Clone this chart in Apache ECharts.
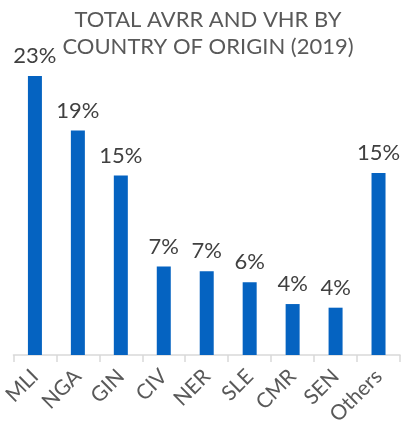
<!DOCTYPE html>
<html>
<head>
<meta charset="utf-8">
<script src="https://cdn.jsdelivr.net/npm/echarts@6/dist/echarts.min.js"></script>
<style>
  html, body { margin: 0; padding: 0; background: #fff; }
  #chart { width: 402px; height: 431px; }
</style>
</head>
<body>
<div id="chart"></div>
<script>
// values in percent
const countries = ['MLI', 'NGA', 'GIN', 'CIV', 'NER', 'SLE', 'CMR', 'SEN', 'Others'];
const shares = [23.0, 18.5, 14.8, 7.3, 6.9, 6.0, 4.2, 3.9, 15.0];

let chart = echarts.init(document.getElementById('chart'));

let option = {
  animation: false,
  title: {
    text: 'TOTAL AVRR AND VHR BY\nCOUNTRY OF ORIGIN (2019)',
    left: 203,
    textAlign: 'center',
    top: 1,
    textStyle: {
      fontFamily: 'Lato',
      fontWeight: 'normal',
      fontSize: 22,
      lineHeight: 27,
      color: '#595959'
    }
  },
  grid: { left: 10, right: 2, top: 76, bottom: 76 },
  xAxis: {
    type: 'category',
    data: countries,
    axisLine: { lineStyle: { color: '#D9D9D9', width: 1.5 } },
    axisTick: { show: true, length: 7, lineStyle: { color: '#D9D9D9', width: 1.5 } },
    axisLabel: {
      rotate: 45,
      margin: 18,
      fontFamily: 'Lato',
      fontSize: 21,
      color: '#595959'
    }
  },
  yAxis: {
    type: 'value',
    min: 0,
    max: 23,
    show: false,
    splitLine: { show: false }
  },
  series: [
    {
      type: 'bar',
      data: shares,
      barWidth: 14,
      itemStyle: { color: '#0563C1' },
      label: {
        show: true,
        position: 'top',
        distance: 9,
        fontFamily: 'Lato',
        fontSize: 22,
        color: '#404040',
        formatter: p => Math.round(p.value) + '%'
      }
    }
  ]
};

chart.setOption(option);
</script>
</body>
</html>
